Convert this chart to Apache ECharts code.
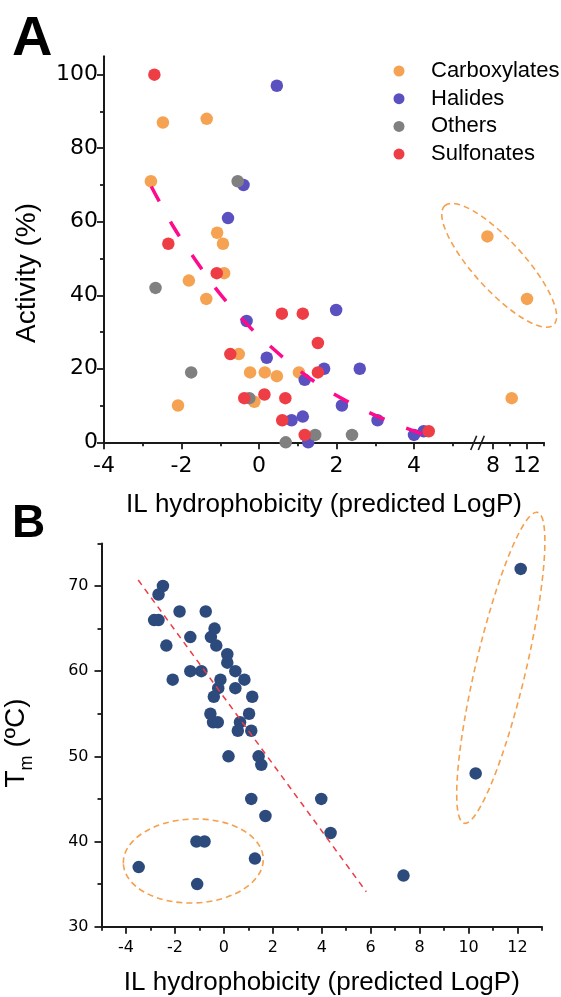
<!DOCTYPE html>
<html><head><meta charset="utf-8">
<script src="https://cdn.jsdelivr.net/npm/echarts@6/dist/echarts.min.js"></script>
<style>html,body{margin:0;padding:0;background:#fff}#c{width:561px;height:997px}</style>
</head><body><div id="c"></div>
<script>
// ---------- Panel A data (IL hydrophobicity vs activity) ----------
const carboxylates = [[-2.48,87],[-1.35,88],[-2.79,71],[-1.08,57],[-0.93,54],[-1.81,44],[-0.90,46],[-1.36,39],[-0.52,24],[-0.23,19],[0.15,19],[0.46,18],[1.03,19],[-2.09,10],[-0.12,11],[7.34,56],[12.0,39],[10.2,12]];
const halides = [[0.46,97],[-0.40,70],[-0.80,61],[-0.32,33],[0.20,23],[1.18,17],[0.84,6],[1.13,7],[1.99,36],[1.68,20],[2.60,20],[2.14,10],[3.06,6],[4.0,2],[4.25,3],[1.27,0]];
const others = [[-0.55,71],[-2.67,42],[-1.75,19],[-0.25,12],[0.69,0],[1.45,2],[2.40,2]];
const sulfonates = [[-2.70,100],[-2.34,54],[-1.09,46],[0.59,35],[1.13,35],[-0.74,24],[-0.38,12],[0.14,13],[0.68,12],[0.60,6],[1.18,2],[1.52,27],[1.52,19],[4.38,3]];
const fitA = [[-2.78,69.6],[-2.2,58.5],[-1.6,49],[-1.0,40.3],[-0.3,32],[0.2,27],[0.75,22],[1.6,15.3],[2.5,9.9],[3.4,5.5],[4.35,1.8]];
const categoriesA = ['Carboxylates','Halides','Others','Sulfonates'];

// ---------- Panel B data (IL hydrophobicity vs Tm) ----------
const tmPoints = [[-2.49,70],[-2.67,69],[-2.85,66],[-2.67,66],[-1.81,67],[-0.74,67],[-1.37,64],[-2.35,63],[-0.38,65],[-0.53,64],[-0.31,63],[0.14,62],[0.14,61],[0.47,60],[-1.37,60],[-0.92,60],[-2.09,59],[-0.14,59],[0.84,59],[-0.23,58],[0.47,58],[-0.41,57],[1.16,57],[-0.55,55],[1.03,55],[-0.44,54],[-0.25,54],[0.66,54],[0.57,53],[1.12,53],[0.19,50],[1.42,50],[1.53,49],[1.12,45],[1.70,43],[3.98,45],[4.36,41],[7.34,36],[10.29,48],[12.13,72],[-1.12,40],[-0.79,40],[-3.48,37],[-1.09,35],[1.27,38]];
const trendB = [[-3.50,70.7],[5.82,34.1]];

// ---------- tick labels ----------
const tickA_x = [-4,-2,0,2,4];
const minorA_x = [-3,-1,1,3,5];
const tickA_xBreak = [8,12];
const minorA_xBreak = [10,14];
const tickA_y = [0,20,40,60,80,100];
const minorA_y = [10,30,50,70,90];
const tickB_x = [-4,-2,0,2,4,6,8,10,12];
const minorB_x = [-5,-3,-1,1,3,5,7,9,11,13];
const tickB_y = [30,40,50,60,70];
const minorB_y = [35,45,55,65,75];

const COLORS = {Carboxylates:'#F5A352', Halides:'#5B50C0', Others:'#808080', Sulfonates:'#EF3D46'};
const DOT_B = '#2D4A7D';
const ORANGE_LINE = '#F5A04E';
const SANS = '"Liberation Sans", Arial, sans-serif';
const TICKF = '"DejaVu Sans", sans-serif';
const AX = '#1a1a1a';

function mkAxis(o) {
  return {
    type: 'value', gridIndex: o.grid, min: o.min, max: o.max, position: o.pos,
    show: o.show !== false, offset: 0, splitLine: {show:false},
    axisLine: {show: !o.minor, onZero:false, lineStyle:{color:AX, width:2}},
    axisTick: {show:true, inside:false, length: o.minor ? 4 : 7, customValues: o.ticks, lineStyle:{color:AX, width:1.8}},
    axisLabel: o.minor ? {show:false} : {show:true, customValues: o.ticks, color:'#000', fontFamily:TICKF, fontSize:o.fs, margin:o.margin},
  };
}

const xAxis = [
  mkAxis({grid:0, min:-4, max:5.6, pos:'bottom', ticks:tickA_x, fs:22, margin:13}),
  mkAxis({grid:0, min:-4, max:5.6, pos:'bottom', ticks:minorA_x, minor:true}),
  mkAxis({grid:1, min:6, max:14, pos:'bottom', ticks:tickA_xBreak, fs:22, margin:13}),
  mkAxis({grid:1, min:6, max:14, pos:'bottom', ticks:minorA_xBreak, minor:true}),
  mkAxis({grid:2, min:-5, max:13, pos:'bottom', ticks:tickB_x, fs:16, margin:13}),
  mkAxis({grid:2, min:-5, max:13, pos:'bottom', ticks:minorB_x, minor:true}),
];
const yAxis = [
  mkAxis({grid:0, min:0, max:105, pos:'left', ticks:tickA_y, fs:22, margin:6}),
  mkAxis({grid:0, min:0, max:105, pos:'left', ticks:minorA_y, minor:true}),
  mkAxis({grid:1, min:0, max:105, pos:'left', ticks:[], show:false}),
  mkAxis({grid:2, min:30, max:75, pos:'left', ticks:tickB_y, fs:16, margin:13}),
  mkAxis({grid:2, min:30, max:75, pos:'left', ticks:minorB_y, minor:true}),
];

const catData = {Carboxylates:carboxylates, Halides:halides, Others:others, Sulfonates:sulfonates};
const series = [];
categoriesA.forEach(name => {
  const left = catData[name].filter(p => p[0] < 6);
  const right = catData[name].filter(p => p[0] >= 6);
  series.push({name, type:'scatter', xAxisIndex:0, yAxisIndex:0, data:left, symbol:'circle', symbolSize:12.5,
    itemStyle:{color:COLORS[name], opacity:1}, emphasis:{disabled:true}, clip:true});
  if (right.length) series.push({name, type:'scatter', xAxisIndex:2, yAxisIndex:2, data:right, symbol:'circle', symbolSize:12.5,
    itemStyle:{color:COLORS[name], opacity:1}, emphasis:{disabled:true}, clip:true});
});
series.push({type:'line', xAxisIndex:0, yAxisIndex:0, data:fitA, smooth:0.35, showSymbol:false, z:5,
  lineStyle:{color:'#FF0A8C', width:3.5, type:[17,23], cap:'butt'}, emphasis:{disabled:true}});
series.push({type:'scatter', xAxisIndex:4, yAxisIndex:3, data:tmPoints, symbol:'circle', symbolSize:12.5,
  itemStyle:{color:DOT_B, opacity:1}, emphasis:{disabled:true}});
series.push({type:'line', xAxisIndex:4, yAxisIndex:3, data:trendB, showSymbol:false, z:5,
  lineStyle:{color:'#EE3A44', width:1.5, type:[6,5]}, emphasis:{disabled:true}});

const dash = [6,4];
const graphic = [
  {type:'text', x:12, y:39.5, style:{text:'A', font:'bold 56px ' + SANS, fill:'#000', verticalAlign:'middle'}},
  {type:'text', x:12, y:524, style:{text:'B', font:'bold 46px ' + SANS, fill:'#000', verticalAlign:'middle'}},
  {type:'text', x:324, y:505, style:{text:'IL hydrophobicity (predicted LogP)', font:'26px ' + SANS, fill:'#000', align:'center', verticalAlign:'middle'}},
  {type:'text', x:321.8, y:983.3, style:{text:'IL hydrophobicity (predicted LogP)', font:'26px ' + SANS, fill:'#000', align:'center', verticalAlign:'middle'}},
  {type:'text', x:27.3, y:273, rotation:Math.PI/2, style:{text:'Activity (%)', font:'28px ' + SANS, fill:'#000', align:'center', verticalAlign:'middle'}},
  {type:'text', x:19.1, y:743, rotation:Math.PI/2, style:{
    text:'{t|T}{s|m}{t| (ºC)}', fill:'#000', align:'center', verticalAlign:'middle',
    rich:{t:{fontFamily:SANS, fontSize:28, verticalAlign:'top', lineHeight:30}, s:{fontFamily:SANS, fontSize:18, verticalAlign:'bottom', lineHeight:34}}}},
  // annotation ellipses
  {type:'ellipse', x:499.2, y:265.3, rotation:-0.831, shape:{cx:0, cy:0, rx:80.7, ry:25}, style:{fill:'none', stroke:ORANGE_LINE, lineWidth:1.6, lineDash:dash}, z:10},
  {type:'ellipse', x:500.8, y:667.8, rotation:-0.232, shape:{cx:0, cy:0, rx:25.1, ry:159.7}, style:{fill:'none', stroke:ORANGE_LINE, lineWidth:1.6, lineDash:dash}, z:10},
  {type:'ellipse', x:193.3, y:861, rotation:0.035, shape:{cx:0, cy:0, rx:70, ry:42}, style:{fill:'none', stroke:ORANGE_LINE, lineWidth:1.6, lineDash:dash}, z:10},
  // axis break marks
  {type:'line', shape:{x1:470.7, y1:450, x2:476.7, y2:435.7}, style:{stroke:AX, lineWidth:1.6}, z:10},
  {type:'line', shape:{x1:478.3, y1:450, x2:484.3, y2:435.7}, style:{stroke:AX, lineWidth:1.6}, z:10},
];

const option = {
  animation:false,
  backgroundColor:'#fff',
  grid:[
    {left:104, top:56.3, width:372, height:386},
    {left:476, top:56.3, width:68, height:386},
    {left:101.5, top:543.4, width:440.5, height:383.3},
  ],
  legend:{data:categoriesA, orient:'vertical', left:393.5, top:60, padding:0, itemWidth:11, itemHeight:11, itemGap:5.7,
    icon:'circle', selectedMode:false, textStyle:{fontFamily:SANS, fontSize:22, color:'#000', padding:[0,0,0,21.5]}},
  xAxis, yAxis, series, graphic,
};
const chart = echarts.init(document.getElementById('c'));
chart.setOption(option);
</script></body></html>
